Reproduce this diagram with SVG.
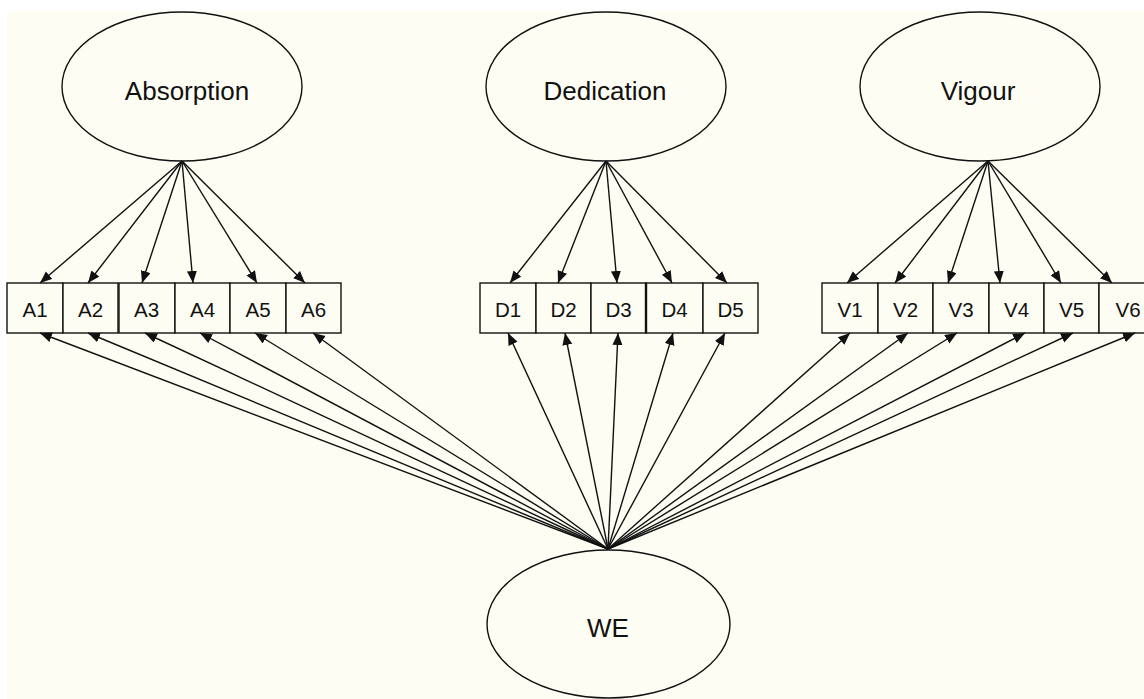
<svg xmlns="http://www.w3.org/2000/svg" width="1144" height="699" viewBox="0 0 1144 699">
<style>
.lat{fill:#fdfdf3;stroke:#111;stroke-width:1.4}
.box{fill:#fdfdf3;stroke:#111;stroke-width:1.4}
.big{font-family:"Liberation Sans",Arial,sans-serif;font-size:26px;fill:#111;text-anchor:middle}
.sm{font-family:"Liberation Sans",Arial,sans-serif;font-size:20.5px;fill:#111;text-anchor:middle}
.con line{stroke:#111;stroke-width:1.4;marker-end:url(#ah)}
</style>
<defs>
<marker id="ah" markerUnits="userSpaceOnUse" markerWidth="13" markerHeight="11" refX="12" refY="5" orient="auto">
<path d="M0,0 L12,5 L0,10 z" fill="#111"/>
</marker>
</defs>
<rect x="0" y="0" width="1144" height="699" fill="#ffffff"/>
<rect x="7" y="11" width="1137" height="688" fill="#fdfdf3"/>
<g id="absorption"><ellipse class="lat" cx="182" cy="86.5" rx="120" ry="74.5"/><text class="big" x="187" y="100">Absorption</text></g>
<g id="dedication"><ellipse class="lat" cx="606" cy="86.5" rx="120" ry="74.5"/><text class="big" x="605" y="100">Dedication</text></g>
<g id="vigour"><ellipse class="lat" cx="980" cy="86.5" rx="120" ry="74.5"/><text class="big" x="978" y="100">Vigour</text></g>
<g id="we"><ellipse class="lat" cx="608.5" cy="624" rx="121.5" ry="74"/><text class="big" x="608" y="637">WE</text></g>
<g id="A1"><rect class="box" x="7" y="283" width="56" height="50"/><text class="sm" x="35" y="317">A1</text></g>
<g id="A2"><rect class="box" x="63" y="283" width="55" height="50"/><text class="sm" x="90.5" y="317">A2</text></g>
<g id="A3"><rect class="box" x="119" y="283" width="56" height="50"/><text class="sm" x="146.5" y="317">A3</text></g>
<g id="A4"><rect class="box" x="175" y="283" width="55" height="50"/><text class="sm" x="202.5" y="317">A4</text></g>
<g id="A5"><rect class="box" x="230" y="283" width="56" height="50"/><text class="sm" x="258" y="317">A5</text></g>
<g id="A6"><rect class="box" x="286" y="283" width="55" height="50"/><text class="sm" x="313.5" y="317">A6</text></g>
<g id="D1"><rect class="box" x="480" y="283" width="56" height="50"/><text class="sm" x="508" y="317">D1</text></g>
<g id="D2"><rect class="box" x="536" y="283" width="55" height="50"/><text class="sm" x="563.5" y="317">D2</text></g>
<g id="D3"><rect class="box" x="591" y="283" width="55" height="50"/><text class="sm" x="618.5" y="317">D3</text></g>
<g id="D4"><rect class="box" x="646" y="283" width="57" height="50"/><line x1="646" y1="283" x2="646" y2="333" stroke="#111" stroke-width="2.4"/><text class="sm" x="674.5" y="317">D4</text></g>
<g id="D5"><rect class="box" x="703" y="283" width="55" height="50"/><text class="sm" x="730.5" y="317">D5</text></g>
<g id="V1"><rect class="box" x="822" y="283" width="56" height="50"/><text class="sm" x="850" y="317">V1</text></g>
<g id="V2"><rect class="box" x="878" y="283" width="55" height="50"/><text class="sm" x="905.5" y="317">V2</text></g>
<g id="V3"><rect class="box" x="933" y="283" width="56" height="50"/><text class="sm" x="961" y="317">V3</text></g>
<g id="V4"><rect class="box" x="989" y="283" width="55" height="50"/><text class="sm" x="1016.5" y="317">V4</text></g>
<g id="V5"><rect class="box" x="1044" y="283" width="55" height="50"/><text class="sm" x="1071.5" y="317">V5</text></g>
<g id="V6"><rect class="box" x="1099" y="283" width="60" height="50"/><text class="sm" x="1128" y="317">V6</text></g>
<g id="connectors" class="con">
<line x1="182" y1="161" x2="40" y2="283"/>
<line x1="182" y1="161" x2="88" y2="283"/>
<line x1="182" y1="161" x2="142" y2="283"/>
<line x1="182" y1="161" x2="193" y2="283"/>
<line x1="182" y1="161" x2="257" y2="283"/>
<line x1="182" y1="161" x2="305" y2="283"/>
<line x1="606" y1="161" x2="510" y2="283"/>
<line x1="606" y1="161" x2="558" y2="283"/>
<line x1="606" y1="161" x2="617" y2="283"/>
<line x1="606" y1="161" x2="672" y2="283"/>
<line x1="606" y1="161" x2="727" y2="283"/>
<line x1="988" y1="161" x2="847" y2="283"/>
<line x1="988" y1="161" x2="895" y2="283"/>
<line x1="988" y1="161" x2="948" y2="283"/>
<line x1="988" y1="161" x2="1000" y2="283"/>
<line x1="988" y1="161" x2="1061" y2="283"/>
<line x1="988" y1="161" x2="1112" y2="283"/>
<line x1="608" y1="549" x2="40" y2="333"/>
<line x1="608" y1="549" x2="88" y2="333"/>
<line x1="608" y1="549" x2="145" y2="333"/>
<line x1="608" y1="549" x2="200" y2="333"/>
<line x1="608" y1="549" x2="255" y2="333"/>
<line x1="608" y1="549" x2="313" y2="333"/>
<line x1="608" y1="549" x2="508" y2="333"/>
<line x1="608" y1="549" x2="565" y2="333"/>
<line x1="608" y1="549" x2="618" y2="333"/>
<line x1="608" y1="549" x2="673" y2="333"/>
<line x1="608" y1="549" x2="725" y2="333"/>
<line x1="608" y1="549" x2="850" y2="333"/>
<line x1="608" y1="549" x2="908" y2="333"/>
<line x1="608" y1="549" x2="957" y2="333"/>
<line x1="608" y1="549" x2="1025" y2="333"/>
<line x1="608" y1="549" x2="1073" y2="333"/>
<line x1="608" y1="549" x2="1135" y2="333"/>
</g>
</svg>
